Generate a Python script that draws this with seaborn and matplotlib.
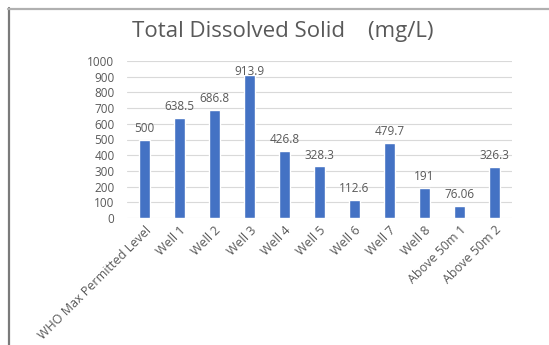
import matplotlib
matplotlib.use("Agg")
import matplotlib.pyplot as plt
from matplotlib.lines import Line2D
import seaborn as sns
import pandas as pd

categories = ["WHO Max Permitted Level", "Well 1", "Well 2", "Well 3", "Well 4",
              "Well 5", "Well 6", "Well 7", "Well 8", "Above 50m 1", "Above 50m 2"]
tds_values = [500, 638.5, 686.8, 913.9, 426.8, 328.3, 112.6, 479.7, 191, 76.06, 326.3]
value_labels = ["500", "638.5", "686.8", "913.9", "426.8", "328.3", "112.6",
                "479.7", "191", "76.06", "326.3"]
y_ticks = [0, 100, 200, 300, 400, 500, 600, 700, 800, 900, 1000]

sns.set_theme(style="white")
plt.rcParams["font.family"] = ["Open Sans", "DejaVu Sans"]

text_grey = "#595959"
bar_blue = "#4472C4"

df = pd.DataFrame({"site": categories, "tds": tds_values})

fig = plt.figure(figsize=(5.49, 3.45), dpi=100)
ax = fig.add_axes([127 / 549, 1 - 218 / 345, 385 / 549, 157 / 345])

sns.barplot(data=df, x="site", y="tds", color=bar_blue, width=0.33,
            saturation=1, ax=ax, zorder=3)

ax.set_ylim(0, 1000)
ax.set_yticks(y_ticks)
ax.set_yticklabels([str(t) for t in y_ticks], fontsize=8.5, color=text_grey)
ax.yaxis.grid(True, color="#d9d9d9", linewidth=0.8, zorder=0)
ax.xaxis.grid(False)
ax.tick_params(axis="y", length=0, pad=9)
ax.tick_params(axis="x", length=0, pad=4)
plt.setp(ax.get_xticklabels(), rotation=45, ha="right", rotation_mode="anchor",
         fontsize=9, color=text_grey)
for s in ax.spines.values():
    s.set_visible(False)
ax.set_xlabel("")
ax.set_ylabel("")

# value labels above each bar, pulled down when close to the top of the plot
for i, (v, lab) in enumerate(zip(tds_values, value_labels)):
    off = 3.5 if v < 850 else -2.5
    ax.annotate(lab, xy=(i, v), xytext=(0, off), textcoords="offset points",
                ha="center", va="bottom", fontsize=8.5, color=text_grey,
                annotation_clip=False, zorder=4)

fig.text(283 / 549, 1 - 32 / 345, "Total Dissolved Solid    (mg/L)",
         ha="center", va="center", fontsize=16, color=text_grey)

# chart frame edges
fig.add_artist(Line2D([8.5 / 549, 8.5 / 549], [0, 1 - 8 / 345],
                      transform=fig.transFigure, color="#7a7a7a", linewidth=1.6))
fig.add_artist(Line2D([8 / 549, 1], [1 - 8.5 / 345, 1 - 8.5 / 345],
                      transform=fig.transFigure, color="#b0b0b0", linewidth=1.6))

fig.savefig("out.png", dpi=100)
